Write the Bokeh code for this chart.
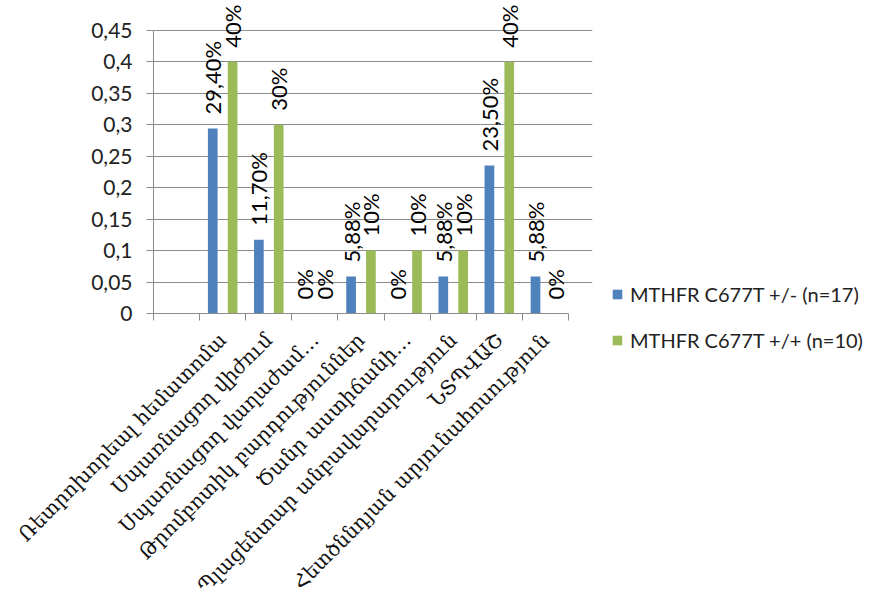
import math
from bokeh.plotting import figure
from bokeh.layouts import row
from bokeh.models import (ColumnDataSource, Range1d, FixedTicker, Legend, LegendItem)
from bokeh.transform import dodge
from bokeh.core.properties import value
from bokeh.embed import file_html
from bokeh.resources import INLINE

categories = [
    "Ռետրոխորեալ հեմատոմա",
    "Սպառնացող վիժում",
    "Սպառնացող վաղաժամ…",
    "Թրոմբոտիկ բարդություններ",
    "Ծանր աստիճանի…",
    "Պլացենտար անբավարարություն",
    "ՆՏՊՎԱՇ",
    "Հետծննդյան արյունահոսություն",
]
het_values = [0.294, 0.117, 0.0, 0.0588, 0.0, 0.0588, 0.235, 0.0588]
hom_values = [0.40, 0.30, 0.0, 0.10, 0.10, 0.10, 0.40, 0.0]
het_labels = ["29,40%", "11,70%", "0%", "5,88%", "0%", "5,88%", "23,50%", "5,88%"]
hom_labels = ["40%", "30%", "0%", "10%", "10%", "10%", "40%", "0%"]
series_names = ["MTHFR C677T +/- (n=17)", "MTHFR C677T +/+ (n=10)"]
y_ticks = [0, 0.05, 0.1, 0.15, 0.2, 0.25, 0.3, 0.35, 0.4, 0.45]
y_tick_labels = ["0", "0,05", "0,1", "0,15", "0,2", "0,25", "0,3", "0,35", "0,4", "0,45"]

BLUE = "#4F81BD"
GREEN = "#9BBB59"
GRID = "#8C8C8C"
NUM_FONT = "Lato"
CAT_FONT = "DejaVu Serif"

n = len(categories)
xs = list(range(1, n + 1))
src = ColumnDataSource(dict(x=xs, het=het_values, hom=hom_values,
                            het_lbl=het_labels, hom_lbl=hom_labels))

# layout geometry (pixels)
W, H = 876, 608
MAIN_W = 596
AX_LEFT, AX_RIGHT, AX_TOP, AX_BOTTOM = 153, 568, 30, 315
FRAME_RIGHT, FRAME_TOP = 592, 2
slots = n + 1
x_lo = -0.5
x_hi = x_lo + slots * (FRAME_RIGHT - AX_LEFT) / (AX_RIGHT - AX_LEFT)
y_max = y_ticks[-1]
y_hi = y_max * (AX_BOTTOM - FRAME_TOP) / (AX_BOTTOM - AX_TOP)

p = figure(width=MAIN_W, height=H, output_backend="svg", toolbar_location=None,
           x_range=Range1d(x_lo, x_hi), y_range=Range1d(0, y_hi),
           min_border_left=AX_LEFT, min_border_top=FRAME_TOP,
           min_border_bottom=H - AX_BOTTOM, min_border_right=MAIN_W - FRAME_RIGHT)
p.outline_line_color = None
p.background_fill_color = "white"
p.border_fill_color = "white"
p.frame_align = False

off = 0.215
r1 = p.vbar(x=dodge("x", -off, range=p.x_range), top="het", width=0.21,
            source=src, fill_color=BLUE, line_color=None)
r2 = p.vbar(x=dodge("x", off, range=p.x_range), top="hom", width=0.21,
            source=src, fill_color=GREEN, line_color=None)

for col, ycol, lbl in ((-off, "het", "het_lbl"), (off, "hom", "hom_lbl")):
    p.text(x=dodge("x", col, range=p.x_range), y=ycol,
           text=lbl, source=src, angle=math.pi / 2, text_align="left",
           text_baseline="middle", y_offset=-14, text_color="black",
           text_font=value(NUM_FONT), text_font_size="22px")

# Y axis
p.yaxis.ticker = FixedTicker(ticks=y_ticks)
p.yaxis.bounds = (0, y_max)
p.yaxis.major_label_overrides = {t: l for t, l in zip(y_ticks, y_tick_labels)}
p.yaxis.major_label_text_font = NUM_FONT
p.yaxis.major_label_text_font_size = "21px"
p.yaxis.major_label_text_color = "#222222"
p.yaxis.axis_line_color = GRID
p.yaxis.major_tick_line_color = GRID
p.yaxis.major_tick_out = 7
p.yaxis.major_tick_in = 0
p.yaxis.minor_tick_line_color = None
p.yaxis.major_label_standoff = 14

# X axis
p.xaxis.ticker = FixedTicker(ticks=list(range(0, n + 1)),
                             minor_ticks=[i - 0.5 for i in range(0, n + 2)])
p.xaxis.bounds = (x_lo, x_lo + slots)
overrides = {0: ""}
for i, c in zip(xs, categories):
    overrides[i] = c
p.xaxis.major_label_overrides = overrides
p.xaxis.major_label_orientation = math.pi / 4
p.xaxis.major_label_text_font = CAT_FONT
p.xaxis.major_label_text_font_size = "20px"
p.xaxis.major_label_text_color = "#111111"
p.xaxis.axis_line_color = GRID
p.xaxis.major_tick_line_color = None
p.xaxis.major_tick_out = 0
p.xaxis.minor_tick_line_color = GRID
p.xaxis.minor_tick_out = 7
p.xaxis.minor_tick_in = 0
p.xaxis.major_label_standoff = 16

p.xgrid.grid_line_color = None
p.ygrid.grid_line_color = GRID
p.ygrid.grid_line_width = 1
p.ygrid.ticker = FixedTicker(ticks=y_ticks)
p.ygrid.bounds = (x_lo, x_lo + slots)

# Legend panel (separate figure to the right of the chart; its bars sit
# outside its visible range so only the legend shows)
LEG_W = W - MAIN_W
pl = figure(width=LEG_W, height=H, output_backend="svg", toolbar_location=None,
            x_range=Range1d(-100, -99), y_range=Range1d(0, 1),
            x_axis_location=None, y_axis_location=None,
            min_border_left=0, min_border_right=0, min_border_top=0, min_border_bottom=0)
pl.outline_line_color = None
pl.xgrid.visible = False
pl.ygrid.visible = False
pl.frame_align = False
lr1 = pl.vbar(x="x", top="het", width=0.21, source=src, fill_color=BLUE, line_color=None)
lr2 = pl.vbar(x="x", top="hom", width=0.21, source=src, fill_color=GREEN, line_color=None)

legend = Legend(items=[LegendItem(label=series_names[0], renderers=[lr1]),
                       LegendItem(label=series_names[1], renderers=[lr2])],
                location=(611 - MAIN_W, H - 352), orientation="vertical")
legend.label_text_font = NUM_FONT
legend.label_text_font_size = "20px"
legend.label_text_color = "#222222"
legend.glyph_width = 12
legend.glyph_height = 12
legend.spacing = 22
legend.padding = 0
legend.margin = 0
legend.border_line_color = None
legend.background_fill_alpha = 0
legend.label_standoff = 7
pl.add_layout(legend, "center")

layout = row(p, pl, spacing=0)
open("out.html", "w").write(file_html(layout, INLINE))
